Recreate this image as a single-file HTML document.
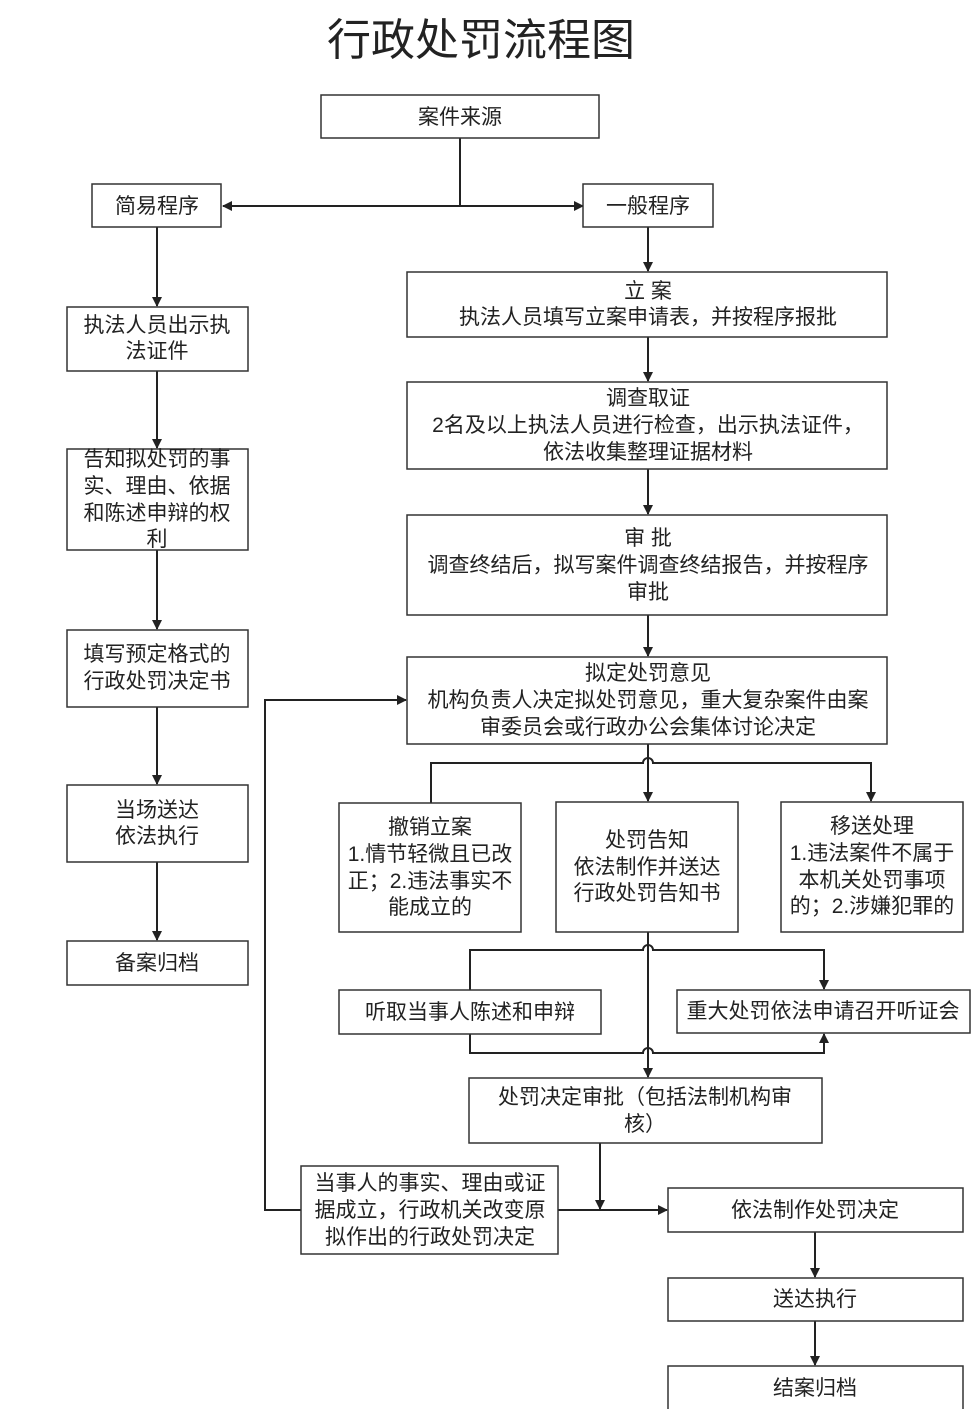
<!DOCTYPE html>
<html><head><meta charset="utf-8"><style>
html,body{margin:0;padding:0;background:#fff;}
svg{display:block;}
text{font-family:"Liberation Sans","Noto Sans CJK SC",sans-serif;font-size:21px;fill:#222;text-anchor:middle;}
rect{fill:#fff;stroke:#333;stroke-width:1.5;}
.l{stroke:#222;stroke-width:2;fill:none;}
</style></head><body>
<svg width="980" height="1409" viewBox="0 0 980 1409" xmlns="http://www.w3.org/2000/svg">
<defs><marker id="a" markerWidth="10" markerHeight="10" refX="9" refY="5" orient="auto" markerUnits="userSpaceOnUse"><path d="M0,0 L10,5 L0,10 z" fill="#222"/></marker></defs>
<text x="481" y="55" style="font-size:44px">行政处罚流程图</text>

<!-- connectors -->
<path class="l" d="M460,138 V206"/>
<path class="l" d="M460,206 H583" marker-end="url(#a)"/>
<path class="l" d="M460,206 H223" marker-end="url(#a)"/>
<path class="l" d="M648,227 V271" marker-end="url(#a)"/>
<path class="l" d="M648,337 V381" marker-end="url(#a)"/>
<path class="l" d="M648,469 V514" marker-end="url(#a)"/>
<path class="l" d="M648,615 V656" marker-end="url(#a)"/>
<path class="l" d="M157,227 V306" marker-end="url(#a)"/>
<path class="l" d="M157,371 V448" marker-end="url(#a)"/>
<path class="l" d="M157,550 V629" marker-end="url(#a)"/>
<path class="l" d="M157,707 V784" marker-end="url(#a)"/>
<path class="l" d="M157,862 V940" marker-end="url(#a)"/>
<path class="l" d="M648,744 V801" marker-end="url(#a)"/>
<path class="l" d="M431,803 V763 H643 A5,5 0 0 1 653,763 H871 V801" marker-end="url(#a)"/>
<path class="l" d="M648,932 V1077" marker-end="url(#a)"/>
<path class="l" d="M470,990 V950 H643 A5,5 0 0 1 653,950 H824 V989" marker-end="url(#a)"/>
<path class="l" d="M470,1034 V1053 H643 A5,5 0 0 1 653,1053 H824 V1034" marker-end="url(#a)"/>
<path class="l" d="M600,1143 V1209" marker-end="url(#a)"/>
<path class="l" d="M558,1210 H667" marker-end="url(#a)"/>
<path class="l" d="M301,1210 H265 V700 H406" marker-end="url(#a)"/>
<path class="l" d="M815,1232 V1277" marker-end="url(#a)"/>
<path class="l" d="M815,1321 V1365" marker-end="url(#a)"/>

<!-- boxes -->
<rect x="321" y="95" width="278" height="43"/><text x="460" y="124">案件来源</text>
<rect x="92" y="184" width="129" height="43"/><text x="157" y="213">简易程序</text>
<rect x="583" y="184" width="130" height="43"/><text x="648" y="213">一般程序</text>

<rect x="407" y="272" width="480" height="65"/>
<text x="648" y="298">立 案</text><text x="648" y="324">执法人员填写立案申请表，并按程序报批</text>
<rect x="407" y="382" width="480" height="87"/>
<text x="648" y="405">调查取证</text><text x="648" y="432">2名及以上执法人员进行检查，出示执法证件，</text><text x="648" y="459">依法收集整理证据材料</text>
<rect x="407" y="515" width="480" height="100"/>
<text x="648" y="545">审 批</text><text x="648" y="572">调查终结后，拟写案件调查终结报告，并按程序</text><text x="648" y="599">审批</text>
<rect x="407" y="657" width="480" height="87"/>
<text x="648" y="680">拟定处罚意见</text><text x="648" y="707">机构负责人决定拟处罚意见，重大复杂案件由案</text><text x="648" y="734">审委员会或行政办公会集体讨论决定</text>

<rect x="67" y="307" width="181" height="64"/>
<text x="157" y="332">执法人员出示执</text><text x="157" y="358">法证件</text>
<rect x="67" y="449" width="181" height="101"/>
<text x="157" y="466">告知拟处罚的事</text><text x="157" y="493">实、理由、依据</text><text x="157" y="520">和陈述申辩的权</text><text x="157" y="546">利</text>
<rect x="67" y="630" width="181" height="77"/>
<text x="157" y="661">填写预定格式的</text><text x="157" y="688">行政处罚决定书</text>
<rect x="67" y="785" width="181" height="77"/>
<text x="157" y="817">当场送达</text><text x="157" y="843">依法执行</text>
<rect x="67" y="941" width="181" height="44"/><text x="157" y="970">备案归档</text>

<rect x="339" y="803" width="182" height="129"/>
<text x="430" y="834">撤销立案</text><text x="430" y="861">1.情节轻微且已改</text><text x="430" y="888">正；2.违法事实不</text><text x="430" y="914">能成立的</text>
<rect x="556" y="802" width="182" height="130"/>
<text x="647" y="847">处罚告知</text><text x="647" y="874">依法制作并送达</text><text x="647" y="900">行政处罚告知书</text>
<rect x="781" y="802" width="182" height="130"/>
<text x="872" y="833">移送处理</text><text x="872" y="860">1.违法案件不属于</text><text x="872" y="887">本机关处罚事项</text><text x="872" y="913">的；2.涉嫌犯罪的</text>

<rect x="339" y="990" width="262" height="44"/><text x="470" y="1019">听取当事人陈述和申辩</text>
<rect x="677" y="990" width="293" height="43"/><text x="823" y="1018">重大处罚依法申请召开听证会</text>
<rect x="469" y="1078" width="353" height="65"/>
<text x="645" y="1104">处罚决定审批（包括法制机构审</text><text x="645" y="1131">核）</text>
<rect x="301" y="1166" width="257" height="88"/>
<text x="430" y="1190">当事人的事实、理由或证</text><text x="430" y="1217">据成立，行政机关改变原</text><text x="430" y="1244">拟作出的行政处罚决定</text>
<rect x="668" y="1188" width="295" height="44"/><text x="815" y="1217">依法制作处罚决定</text>
<rect x="668" y="1278" width="295" height="43"/><text x="815" y="1306">送达执行</text>
<rect x="668" y="1366" width="295" height="60"/><text x="815" y="1395">结案归档</text>
</svg>
</body></html>
